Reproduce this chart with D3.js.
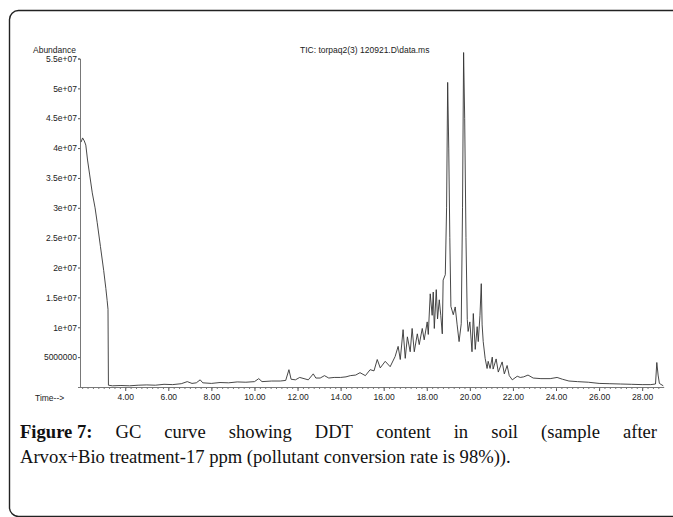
<!DOCTYPE html>
<html>
<head>
<meta charset="utf-8">
<script src="https://cdn.jsdelivr.net/npm/d3@7"></script>
<style>
    body { margin: 0; background: #fff; }
    svg { display: block; }
    .axisText { font-family: "Liberation Sans", Arial, sans-serif; fill: #222; }
    .caption { font-family: "Liberation Serif", "Times New Roman", serif; fill: #111; }
</style>
</head>
<body>
<div id="chart"></div>
<script>
'use strict';

// retention time (min) of each read point of the TIC trace
const retentionTimes = [
    1.95, 2.02, 2.1, 2.17, 2.25, 2.35, 2.47, 2.6, 2.7, 2.85, 3.0, 3.1, 3.16, 3.2, 3.22,
    3.4, 3.8, 4.2, 4.6, 5.0, 5.4, 5.8, 6.2, 6.6, 6.88, 7.1, 7.3, 7.48, 7.6, 8.0, 8.4, 8.8,
    9.2, 9.6, 10.0, 10.2, 10.35, 10.8, 11.2, 11.45, 11.6, 11.7, 11.9, 12.1, 12.3, 12.5,
    12.73, 12.85, 13.05, 13.25, 13.45, 13.7, 14.0,
    14.25, 14.45, 14.7, 14.9, 15.15, 15.37, 15.55, 15.7, 15.84, 16.07, 16.3, 16.53, 16.67,
    16.77, 16.9, 17.0, 17.1, 17.23, 17.32, 17.42, 17.56, 17.65, 17.79, 17.88, 18.02, 18.07,
    18.16, 18.25, 18.3, 18.35, 18.44, 18.5, 18.58, 18.65, 18.72, 18.76, 18.86,
    18.92, 18.97, 19.02, 19.07, 19.12, 19.23, 19.32, 19.41, 19.5, 19.6,
    19.66, 19.71, 19.76, 19.82, 19.88, 19.92, 20.0, 20.1, 20.16, 20.25, 20.34, 20.39,
    20.47, 20.53, 20.57, 20.62, 20.71, 20.8, 20.85, 20.94, 21.04, 21.08, 21.22, 21.32,
    21.5, 21.6, 21.73, 21.83, 21.97, 22.2, 22.34, 22.5, 22.7, 22.94, 23.3, 23.73, 24.05,
    24.3, 24.6, 25.0, 25.5, 26.0, 26.5, 27.0, 27.5, 28.0, 28.4, 28.62, 28.68, 28.74, 28.8, 28.98
];

// abundance at each of those times, in millions of counts
const abundance = [
    41.0, 41.7, 41.2, 40.5, 38.0, 35.5, 32.5, 30.0, 27.5, 23.5, 19.5, 16.5, 14.5, 13.0, 0.3,
    0.2, 0.25, 0.2, 0.3, 0.35, 0.3, 0.45, 0.4, 0.55, 0.9, 0.6, 0.7, 1.2, 0.7, 0.6, 0.75, 0.7,
    0.85, 0.8, 0.9, 1.4, 0.9, 1.0, 1.0, 1.1, 2.9, 1.3, 1.2, 1.6, 1.4, 1.2,
    2.2, 1.5, 1.5, 1.9, 1.5, 1.6, 1.6,
    1.7, 1.9, 2.0, 2.4, 1.9, 2.9, 2.7, 4.6, 3.2, 4.3, 3.4, 5.1, 6.8,
    4.6, 9.6, 4.8, 8.4, 5.9, 9.8, 5.9, 8.9, 7.1, 9.8, 7.9, 10.9, 8.8,
    15.6, 12.0, 15.9, 9.8, 16.3, 11.4, 14.6, 12.0, 8.9, 17.9, 18.8,
    30.0, 51.0, 40.0, 25.0, 13.5, 12.1, 13.4, 10.4, 7.6, 10.6,
    30.0, 56.0, 45.0, 25.0, 11.3, 9.3, 10.9, 5.9, 12.3, 6.3, 10.1, 7.6,
    12.0, 17.3, 10.4, 7.6, 4.8, 3.1, 4.3, 3.1, 5.0, 3.0, 4.7, 2.5,
    4.2, 2.2, 3.6, 1.9, 1.2, 1.8, 1.6, 1.7, 2.0, 1.5, 1.4, 1.4, 1.6,
    1.3, 1.0, 0.9, 0.8, 0.6, 0.55, 0.5, 0.45, 0.4, 0.4, 0.5, 4.1, 2.0, 0.6, 0.2
];

// axis ticks
const yTickValues = [5, 10, 15, 20, 25, 30, 35, 40, 45, 50, 55];
const yTickLabels = ["5000000", "1e+07", "1.5e+07", "2e+07", "2.5e+07", "3e+07",
                     "3.5e+07", "4e+07", "4.5e+07", "5e+07", "5.5e+07"];
const xTickValues = [4, 6, 8, 10, 12, 14, 16, 18, 20, 22, 24, 26, 28];
const xTickLabels = ["4.00", "6.00", "8.00", "10.00", "12.00", "14.00", "16.00",
                     "18.00", "20.00", "22.00", "24.00", "26.00", "28.00"];

const titleText = "TIC: torpaq2(3) 120921.D\\data.ms";
const captionBold = "Figure 7:";
const captionLine1 = "GC curve showing DDT content in soil (sample after";
const captionLine2 = "Arvox+Bio treatment-17 ppm (pollutant conversion rate is 98%)).";

let width = 673, height = 517;
let svg = d3.select("#chart").append("svg")
    .attr("width", width)
    .attr("height", height);

// figure frame (runs off the right and bottom edge)
svg.append("rect")
    .attr("x", 9.5).attr("y", 10.5)
    .attr("width", 700).attr("height", 506)
    .attr("rx", 9).attr("ry", 9)
    .attr("fill", "none")
    .attr("stroke", "#222")
    .attr("stroke-width", 1.4);

// scales
let xScale = d3.scaleLinear().domain([1.9, 29.0]).range([80, 663.7]);
let yScale = d3.scaleLinear().domain([0, 55]).range([387, 58.5]);

// y axis
let yAxis = svg.append("g")
    .attr("transform", "translate(80,0)")
    .call(d3.axisLeft(yScale)
        .tickValues(yTickValues)
        .tickSize(2)
        .tickPadding(1)
        .tickFormat((d, i) => yTickLabels[i]));
yAxis.select(".domain").attr("stroke", "#555").attr("stroke-width", 0.8);
yAxis.selectAll(".tick line").attr("stroke", "#555");
yAxis.selectAll("text")
    .attr("class", "axisText")
    .style("font-size", "8.5px")
    .attr("fill", "#222");

// x axis: major ticks with labels
let xAxis = svg.append("g")
    .attr("transform", "translate(0,387)")
    .call(d3.axisBottom(xScale)
        .tickValues(xTickValues)
        .tickSize(4)
        .tickSizeOuter(0)
        .tickPadding(3)
        .tickFormat((d, i) => xTickLabels[i]));
xAxis.select(".domain").attr("stroke", "#555").attr("stroke-width", 0.8);
xAxis.selectAll(".tick line").attr("stroke", "#555");
xAxis.selectAll("text")
    .attr("class", "axisText")
    .style("font-size", "8.5px")
    .attr("fill", "#222");

// x axis: minor ticks every 0.25 min
let minorAxis = svg.append("g")
    .attr("transform", "translate(0,387)")
    .call(d3.axisBottom(xScale)
        .tickValues(d3.range(2.0, 29.0, 0.25))
        .tickSize(2)
        .tickFormat(""));
minorAxis.select(".domain").remove();
minorAxis.selectAll(".tick line").attr("stroke", "#777");

// axis titles
svg.append("text")
    .attr("class", "axisText")
    .attr("x", 33).attr("y", 53)
    .style("font-size", "8.5px")
    .text("Abundance");
svg.append("text")
    .attr("class", "axisText")
    .attr("x", 35).attr("y", 401)
    .style("font-size", "8.5px")
    .text("Time-->");
svg.append("text")
    .attr("class", "axisText")
    .attr("x", 300).attr("y", 53)
    .style("font-size", "8.5px")
    .text(titleText);

// the TIC trace
let tic = retentionTimes.map((t, i) => ({ time: t, value: abundance[i] }));
let line = d3.line()
    .x(d => xScale(d.time))
    .y(d => yScale(d.value));
svg.append("path")
    .datum(tic)
    .attr("d", line)
    .attr("fill", "none")
    .attr("stroke", "#333")
    .attr("stroke-width", 0.9)
    .attr("stroke-linejoin", "round");

// caption: second line sets the font size (it spans x 20..511)
let capLeft = 20, capRight = 657;
let cap2 = svg.append("text")
    .attr("class", "caption")
    .attr("x", capLeft).attr("y", 463)
    .style("font-size", "17px")
    .text(captionLine2);
let capSize = 17 * (511 - capLeft) / cap2.node().getComputedTextLength();
cap2.style("font-size", capSize + "px");

// first line is justified: "Figure 7:" stays together, other words spread out
let cap1 = svg.append("g");
let words = [captionBold].concat(captionLine1.split(" "));
let pieces = words.map((w, i) => cap1.append("text")
    .attr("class", "caption")
    .attr("y", 438)
    .style("font-size", capSize + "px")
    .attr("font-weight", i === 0 ? "bold" : "normal")
    .text(w));
let widths = pieces.map(p => p.node().getComputedTextLength());
let gap = (capRight - capLeft - d3.sum(widths)) / (words.length - 1);
let cursor = capLeft;
pieces.forEach((p, i) => {
    p.attr("x", cursor);
    cursor += widths[i] + gap;
});
</script>
</body>
</html>
